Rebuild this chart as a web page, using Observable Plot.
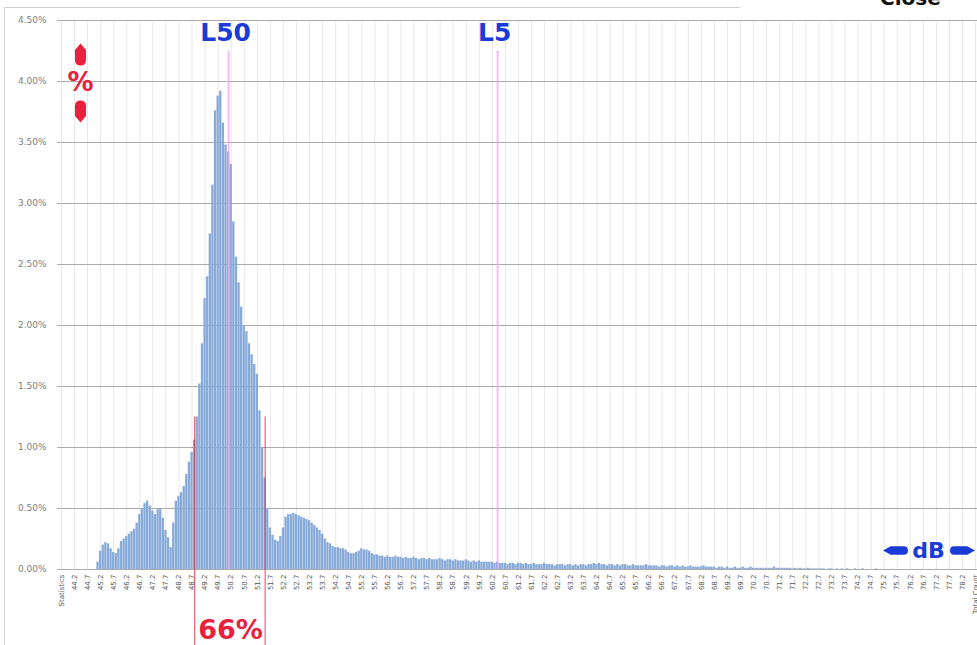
<!DOCTYPE html>
<html><head><meta charset="utf-8">
<script src="https://cdn.jsdelivr.net/npm/d3@7"></script>
<script src="https://cdn.jsdelivr.net/npm/@observablehq/plot@0.6"></script>
<style>
body{margin:0;background:#fff;}
#wrap{position:relative;width:977px;height:645px;overflow:hidden;background:#fff}
#chart{position:absolute;left:0;top:0}
#topline{position:absolute;left:5px;top:7px;width:735px;height:0;border-top:1px solid #cfcfcf}
#leftline{position:absolute;left:4px;top:7px;width:0;height:640px;border-left:1px solid #d6d6d6}
#close{position:absolute;left:880px;top:-12px;font:bold 20px "DejaVu Sans";line-height:20px;color:#111}
</style></head><body>
<div id="wrap"><div id="chart"></div><div id="topline"></div><div id="leftline"></div><div id="close">Close</div></div>
<script>
// Histogram bins: 0.1 dB wide, first bin 43.8 dB
const binStart = 43.8, binStep = 0.1;
// Percent of samples per bin (43.8 ... 78.6 dB)
const pct = [
  0,0,0,0,0,0,0,0,0,0,                                    // 43.8-44.7
  0,0,0,0.06,0.15,0.20,0.22,0.21,0.17,0.14,               // 44.8-45.7
  0.13,0.17,0.23,0.25,0.27,0.29,0.31,0.33,0.38,0.45,      // 45.8-46.7
  0.50,0.54,0.56,0.52,0.48,0.45,0.49,0.50,0.42,0.32,      // 46.8-47.7
  0.26,0.18,0.38,0.56,0.60,0.63,0.68,0.78,0.88,0.96,      // 47.8-48.7
  1.06,1.25,1.52,1.85,2.22,2.40,2.75,3.15,3.76,3.88,      // 48.8-49.7
  3.92,3.66,3.48,3.42,3.32,2.85,2.56,2.35,2.15,2.00,      // 49.8-50.7
  1.95,1.85,1.76,1.68,1.60,1.30,1.00,0.75,0.50,0.34,      // 50.8-51.7
  0.28,0.24,0.23,0.27,0.34,0.43,0.45,0.45,0.46,0.45,      // 51.8-52.7
  0.44,0.43,0.42,0.41,0.40,0.38,0.36,0.34,0.32,0.29,      // 52.8-53.7
  0.25,0.22,0.21,0.19,0.18,0.18,0.17,0.17,0.16,0.14,      // 53.8-54.7
  0.13,0.13,0.14,0.15,0.17,0.16,0.16,0.15,0.13,0.12,      // 54.8-55.7
  0.12,0.11,0.11,0.10,0.11,0.10,0.10,0.11,0.10,0.10,      // 55.8-56.7
  0.09,0.10,0.09,0.09,0.10,0.09,0.08,0.09,0.09,0.08,      // 56.8-57.7
  0.09,0.08,0.08,0.08,0.09,0.08,0.07,0.08,0.08,0.07,      // 57.8-58.7
  0.08,0.07,0.07,0.07,0.08,0.07,0.06,0.07,0.06,0.07,      // 58.8-59.7
  0.06,0.06,0.06,0.06,0.06,0.05,0.06,0.05,0.05,0.05,      // 59.8-60.7
  0.04,0.05,0.05,0.04,0.05,0.05,0.04,0.05,0.04,0.04,      // 60.8-61.7
  0.05,0.04,0.04,0.04,0.05,0.04,0.04,0.04,0.03,0.04,      // 61.8-62.7
  0.04,0.04,0.03,0.04,0.04,0.03,0.04,0.03,0.04,0.04,      // 62.8-63.7
  0.03,0.04,0.04,0.05,0.04,0.05,0.04,0.04,0.03,0.04,      // 63.8-64.7
  0.04,0.03,0.04,0.03,0.04,0.04,0.03,0.03,0.04,0.03,      // 64.8-65.7
  0.03,0.03,0.03,0.04,0.03,0.03,0.03,0.03,0.02,0.03,      // 65.8-66.7
  0.03,0.02,0.03,0.03,0.02,0.03,0.02,0.03,0.02,0.02,      // 66.8-67.7
  0.03,0.02,0.02,0.02,0.02,0.03,0.02,0.02,0.02,0.02,      // 67.8-68.7
  0.01,0.02,0.02,0.01,0.02,0.01,0.01,0.02,0.01,0.01,      // 68.8-69.7
  0.02,0.01,0.01,0.02,0.01,0.01,0.01,0.01,0.01,0.01,      // 69.8-70.7
  0.01,0.01,0.02,0.01,0.01,0.01,0.01,0.01,0.01,0.005,     // 70.8-71.7
  0.01,0.005,0.01,0.005,0.005,0.01,0.005,0.005,0.005,0.005, // 71.8-72.7
  0.005,0.005,0,0.005,0.005,0,0.005,0,0.005,0,            // 72.8-73.7
  0.005,0,0,0.005,0,0,0.005,0,0,0,                        // 73.8-74.7
  0,0.005,0,0,0,0,0,0,0,0,                                // 74.8-75.7
  0,0,0,0,0,0,0,0,0,0,                                    // 75.8-76.7
  0,0,0,0,0,0,0,0,0,0,                                    // 76.8-77.7
  0,0,0,0,0,0,0,0,0                                       // 77.8-78.6
];
const bins = pct.map((_, i) => (binStart + i * binStep).toFixed(1));
const categories = ["Statistics", ...bins, "Total Count"];

const xTickLabels = ["Statistics","44.2","44.7","45.2","45.7","46.2","46.7","47.2","47.7","48.2","48.7",
  "49.2","49.7","50.2","50.7","51.2","51.7","52.2","52.7","53.2","53.7","54.2","54.7","55.2","55.7",
  "56.2","56.7","57.2","57.7","58.2","58.7","59.2","59.7","60.2","60.7","61.2","61.7","62.2","62.7",
  "63.2","63.7","64.2","64.7","65.2","65.7","66.2","66.7","67.2","67.7","68.2","68.7","69.2","69.7",
  "70.2","70.7","71.2","71.7","72.2","72.7","73.2","73.7","74.2","74.7","75.2","75.7","76.2","76.7",
  "77.2","77.7","78.2","Total Count"];
const yTicks = [0, 0.5, 1, 1.5, 2, 2.5, 3, 3.5, 4, 4.5];

// Annotations
const levelLines = [{label: "L50", bin: "50.1"}, {label: "L5", bin: "60.4"}];
const band66 = [{label: "66%", from: "48.8", to: "51.5", mid: "50.1"}];

const data = pct.map((v, i) => ({bin: bins[i], pct: v}));

// pencil-shaped arrow symbol, dir: up/down/left/right
function arrowSymbol(dir, wr, hr) {
  const T = {
    up: (x, y) => [x, y], down: (x, y) => [x, -y],
    left: (x, y) => [y, x], right: (x, y) => [-y, x]
  }[dir];
  return {draw(ctx, size) {
    const r = Math.sqrt(size / Math.PI), w = r * wr, h = r * hr;
    const p = (x, y) => T(x, y);
    ctx.moveTo(...p(-w, -r + h));
    ctx.lineTo(...p(0, -r));
    ctx.lineTo(...p(w, -r + h));
    ctx.lineTo(...p(w, r - w));
    ctx.quadraticCurveTo(...p(w, r), ...p(0, r));
    ctx.quadraticCurveTo(...p(-w, r), ...p(-w, r - w));
    ctx.closePath();
  }};
}

const red = "#e8213c", blue = "#1b3bd8", pink = "#f2a6ee";

const chart = Plot.plot({
  width: 977, height: 645,
  marginTop: 20, marginBottom: 76, marginLeft: 57, marginRight: 0,
  style: {fontFamily: "DejaVu Sans", background: "transparent", overflow: "visible"},
  x: {type: "band", domain: categories, range: [59.64, 976.4], padding: 0, round: false, axis: null},
  y: {domain: [0, 4.5], axis: null},
  marks: [
    Plot.ruleX(xTickLabels, {x: d => d, stroke: "#e8e8e8", strokeWidth: 1}),
    Plot.gridY(yTicks, {stroke: "#ababab", strokeOpacity: 1, strokeWidth: 1.2}),
    Plot.barY(data, {x: "bin", y: "pct", fill: "#88aad8", insetLeft: 0.15, insetRight: 0.15}),
    Plot.ruleX(levelLines, {x: "bin", y1: 0, y2: 4.25, stroke: pink, strokeWidth: 2, strokeOpacity: 0.75}),
    Plot.ruleX(band66, {x: "from", y1: 1.25, y2: -0.65, stroke: red, strokeWidth: 1.2, strokeOpacity: 0.7}),
    Plot.ruleX(band66, {x: "to", y1: 1.25, y2: -0.65, stroke: red, strokeWidth: 1.2, strokeOpacity: 0.7}),
    Plot.text(levelLines, {x: "bin", y: 4.4, text: "label", dx: -3, fill: blue, fontSize: 25, fontWeight: "bold"}),
    Plot.text(band66, {x: "mid", y: -0.5, text: "label", dx: 2, fill: red, fontSize: 27, fontWeight: "bold"}),
    // y-direction indicator (%)
    Plot.text(["%"], {frameAnchor: "top-left", dx: 23, dy: 62, textAnchor: "middle", lineAnchor: "middle", fill: red, fontSize: 26, fontWeight: "bold"}),
    Plot.dot(["up"], {frameAnchor: "top-left", dx: 23, dy: 34, r: 11, symbol: arrowSymbol("up", 0.5, 0.6), fill: red, stroke: "none"}),
    Plot.dot(["down"], {frameAnchor: "top-left", dx: 23, dy: 91, r: 11, symbol: arrowSymbol("down", 0.5, 0.6), fill: red, stroke: "none"}),
    // x-direction indicator (dB)
    Plot.text(["dB"], {frameAnchor: "bottom-right", dx: -49, dy: -19, textAnchor: "middle", lineAnchor: "middle", fill: blue, fontSize: 22, fontWeight: "bold"}),
    Plot.dot(["left"], {frameAnchor: "bottom-right", dx: -82, dy: -19, r: 12.5, symbol: arrowSymbol("left", 0.34, 0.62), fill: blue, stroke: "none"}),
    Plot.dot(["right"], {frameAnchor: "bottom-right", dx: -15, dy: -19, r: 12.5, symbol: arrowSymbol("right", 0.34, 0.62), fill: blue, stroke: "none"}),
    Plot.axisY(yTicks, {label: null, tickFormat: d => d.toFixed(2) + "%", tickSize: 0, tickPadding: 11, fontSize: 9, fill: "#808080"}),
    Plot.axisX(xTickLabels, {label: null, tickRotate: -90, tickSize: 0, tickPadding: 5, fontSize: 7, fill: "#555"})
  ]
});
document.getElementById("chart").appendChild(chart);
</script>
</body></html>
